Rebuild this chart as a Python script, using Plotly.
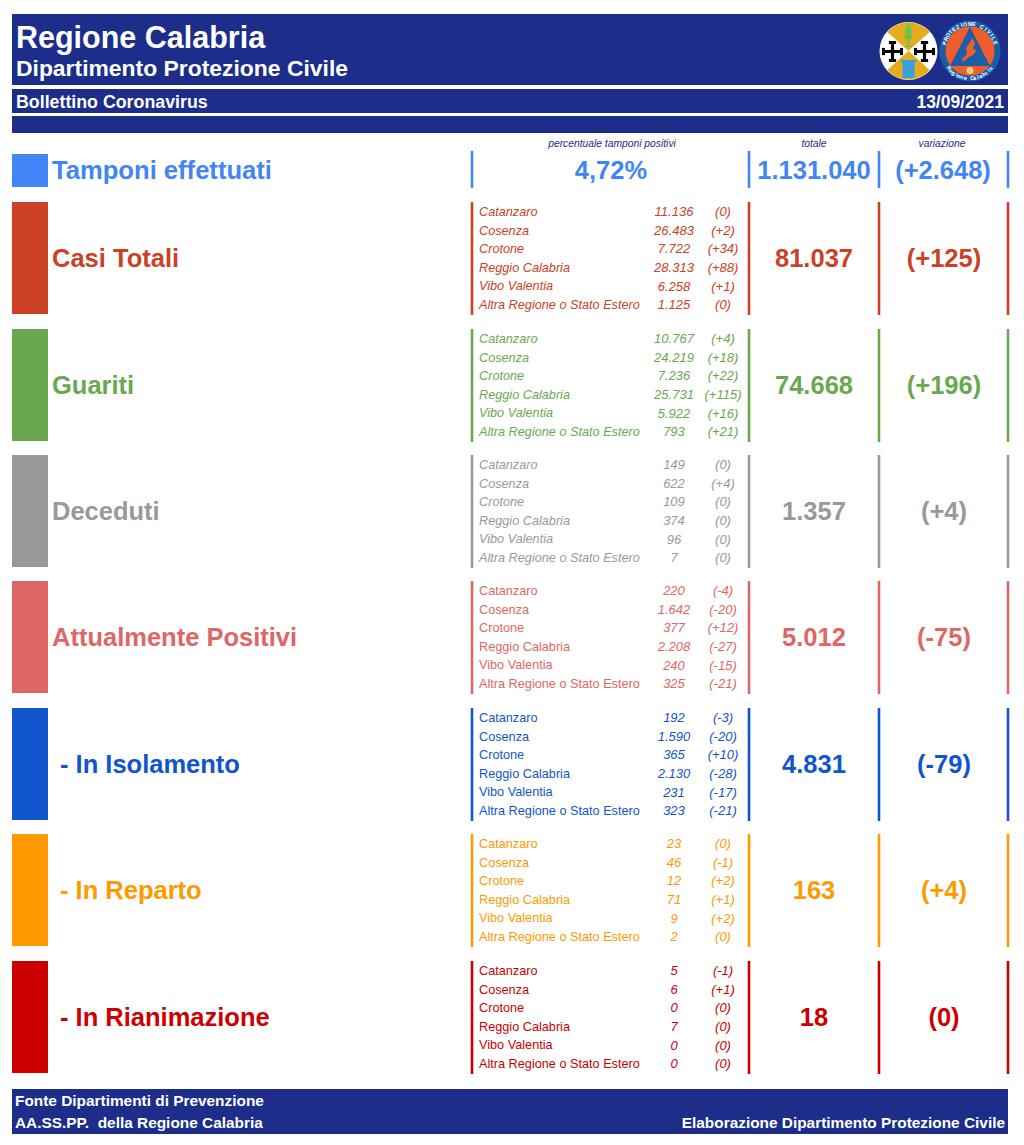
import math
import plotly.graph_objects as go

# ---------- data ----------
provinces = ["Catanzaro", "Cosenza", "Crotone", "Reggio Calabria", "Vibo Valentia", "Altra Regione o Stato Estero"]

casi_values = [11136, 26483, 7722, 28313, 6258, 1125]
casi_delta = [0, 2, 34, 88, 1, 0]
guariti_values = [10767, 24219, 7236, 25731, 5922, 793]
guariti_delta = [4, 18, 22, 115, 16, 21]
deceduti_values = [149, 622, 109, 374, 96, 7]
deceduti_delta = [0, 4, 0, 0, 0, 0]
positivi_values = [220, 1642, 377, 2208, 240, 325]
positivi_delta = [-4, -20, 12, -27, -15, -21]
isolamento_values = [192, 1590, 365, 2130, 231, 323]
isolamento_delta = [-3, -20, 10, -28, -17, -21]
reparto_values = [23, 46, 12, 71, 9, 2]
reparto_delta = [0, -1, 2, 1, 2, 0]
rianimazione_values = [5, 6, 0, 7, 0, 0]
rianimazione_delta = [-1, 1, 0, 0, 0, 0]

category_names = ["Casi Totali", "Guariti", "Deceduti", "Attualmente Positivi",
                  "- In Isolamento", "- In Reparto", "- In Rianimazione"]
category_totals = [81037, 74668, 1357, 5012, 4831, 163, 18]
category_changes = [125, 196, 4, -75, -79, 4, 0]

tamponi_label = "Tamponi effettuati"
tamponi_percent = "4,72%"
tamponi_total = 1131040
tamponi_change = 2648

title_main = "Regione Calabria"
title_sub = "Dipartimento Protezione Civile"
title_band = "Bollettino Coronavirus"
report_date = "13/09/2021"
footer_left = ["Fonte Dipartimenti di Prevenzione", "AA.SS.PP.  della Regione Calabria"]
footer_right = "Elaborazione Dipartimento Protezione Civile"
column_heads = ["percentuale tamponi positivi", "totale", "variazione"]

# ---------- styles / layout ----------
FONT = "Liberation Sans"
NAVY = "#1c2d8a"
TAMPONI = "#4285f4"
colors = ["#cc4125", "#6aa84f", "#999999", "#e06666", "#1155cc", "#ff9900", "#cc0000"]
names_italic = [True, True, True, False, False, False, False]
series = [(casi_values, casi_delta), (guariti_values, guariti_delta), (deceduti_values, deceduti_delta),
          (positivi_values, positivi_delta), (isolamento_values, isolamento_delta),
          (reparto_values, reparto_delta), (rianimazione_values, rianimazione_delta)]
row_tops = [202, 329, 455, 581, 708, 834, 961]
ROW_H = 112
RULES_X = [472, 749, 879, 1008]


def it(n):
    return f"{n:,}".replace(",", ".")


def delta(n):
    return "(0)" if n == 0 else f"({n:+,})".replace(",", ".")


fig = go.Figure()
shapes = []
annotations = []


def text(x, y, s, color, size, pos="middle center", bold=False, italic=False):
    # the renderer sits "middle" text slightly high; nudge in proportion to font size
    fig.add_trace(go.Scatter(
        x=[x], y=[y + size * 0.105], text=[s], mode="text", textposition=pos, hoverinfo="skip", showlegend=False,
        textfont=dict(family=FONT, size=size, color=color,
                      weight="bold" if bold else "normal", style="italic" if italic else "normal"),
    ))


def band(x0, y0, x1, y1, color=NAVY):
    shapes.append(dict(type="rect", x0=x0, y0=y0, x1=x1, y1=y1, fillcolor=color,
                       line=dict(width=0), layer="below"))


def rule(x, y0, y1, color):
    fig.add_trace(go.Scatter(x=[x, x], y=[y0, y1], mode="lines", hoverinfo="skip", showlegend=False,
                             line=dict(color=color, width=2.6)))


def swatch(y0, y1, color):
    fig.add_trace(go.Bar(x=[30], y=[y1 - y0], base=[y0], width=[36], marker=dict(color=color, line=dict(width=0)),
                         hoverinfo="skip", showlegend=False))


# banners
band(12, 14, 1008, 85)
band(12, 89, 1008, 113)
band(12, 116, 1008, 133)
band(12, 1089, 1008, 1134)
text(16, 37, title_main, "white", 30.5, "middle right", bold=True)
text(16, 68, title_sub, "white", 22.9, "middle right", bold=True)
text(16, 101.5, title_band, "white", 17.8, "middle right", bold=True)
text(1004, 101.5, report_date, "white", 17.5, "middle left", bold=True)
text(15, 1100.5, footer_left[0], "white", 15.4, "middle right", bold=True)
text(15, 1123, footer_left[1], "white", 15.4, "middle right", bold=True)
text(1005, 1123, footer_right, "white", 15.4, "middle left", bold=True)

# column headers
text(612, 143.5, column_heads[0], NAVY, 10.3, italic=True)
text(814, 143.5, column_heads[1], NAVY, 10.3, italic=True)
text(942, 143.5, column_heads[2], NAVY, 10.3, italic=True)

# tamponi row
swatch(154, 187, TAMPONI)
for x in RULES_X:
    rule(x, 151, 188, TAMPONI)
text(52, 170, tamponi_label, TAMPONI, 25.6, "middle right", bold=True)
text(611, 170, tamponi_percent, TAMPONI, 25.5, bold=True)
text(814, 170, it(tamponi_total), TAMPONI, 25.5, bold=True)
text(943, 170, f"(+{it(tamponi_change)})", TAMPONI, 25.5, bold=True)

# category rows
for i, top in enumerate(row_tops):
    c = colors[i]
    swatch(top, top + ROW_H, c)
    for x in RULES_X:
        rule(x, top, top + ROW_H + 1, c)
    mid = top + 56
    name_x = 60 if category_names[i].startswith("-") else 52
    text(name_x, mid, category_names[i], c, 25.5, "middle right", bold=True)
    text(814, mid, it(category_totals[i]), c, 25.5, bold=True)
    text(944, mid, delta(category_changes[i]), c, 25.5, bold=True)
    vals, dels = series[i]
    for j, p in enumerate(provinces):
        y = top + 9.5 + 18.6 * j
        text(479, y, p, c, 12.7, "middle right", italic=names_italic[i])
        text(674, y, it(vals[j]), c, 13, italic=True)
        text(723, y, delta(dels[j]), c, 13, italic=True)


# ---------- logos ----------
def poly(points, color, line=None, lw=0):
    d = "M " + " L ".join(f"{a:.2f},{b:.2f}" for a, b in points) + " Z"
    shapes.append(dict(type="path", path=d, fillcolor=color,
                       line=dict(width=lw, color=line or color), layer="above"))


def disc(cx, cy, r, color):
    shapes.append(dict(type="circle", x0=cx - r, x1=cx + r, y0=cy - r, y1=cy + r, fillcolor=color,
                       line=dict(width=0), layer="above"))


def sector(cx, cy, r, a0, a1, color):
    pts = [(cx, cy)]
    for k in range(25):
        a = math.radians(a0 + (a1 - a0) * k / 24)
        pts.append((cx + r * math.cos(a), cy + r * math.sin(a)))
    poly(pts, color)


def cross(cx, cy, s, color="black"):
    t = 1.6
    poly([(cx - t, cy - s), (cx + t, cy - s), (cx + t, cy - t), (cx + s, cy - t), (cx + s, cy + t),
          (cx + t, cy + t), (cx + t, cy + s), (cx - t, cy + s), (cx - t, cy + t), (cx - s, cy + t),
          (cx - s, cy - t), (cx - t, cy - t)], color)
    long, short = 3.6, 1.5
    poly([(cx - long, cy - s), (cx + long, cy - s), (cx + long, cy - s + 2 * short), (cx - long, cy - s + 2 * short)], color)
    poly([(cx - long, cy + s), (cx + long, cy + s), (cx + long, cy + s - 2 * short), (cx - long, cy + s - 2 * short)], color)
    poly([(cx - s, cy - long), (cx - s, cy + long), (cx - s + 2 * short, cy + long), (cx - s + 2 * short, cy - long)], color)
    poly([(cx + s, cy - long), (cx + s, cy + long), (cx + s - 2 * short, cy + long), (cx + s - 2 * short, cy - long)], color)


# regional arms
LX, LY = 908.5, 51
disc(LX, LY, 29, "white")
sector(LX, LY, 28.5, 222, 318, "#e5ad1c")
sector(LX, LY, 28.5, 42, 138, "#e5ad1c")
cross(LX - 16, LY + 0.5, 10.5)
cross(LX + 16, LY + 0.5, 10.5)
poly([(LX, LY - 29), (LX + 4, LY - 20), (LX + 2.5, LY - 20), (LX + 4, LY - 12), (LX + 1, LY - 12), (LX + 1, LY - 6),
      (LX + 4, LY - 4), (LX - 4, LY - 4), (LX - 1, LY - 6), (LX - 1, LY - 12), (LX - 4, LY - 12),
      (LX - 2.5, LY - 20), (LX - 4, LY - 20)], "#6cc24a")
poly([(LX - 8, LY + 9), (LX + 8, LY + 9), (LX + 6, LY + 13), (LX + 6, LY + 27), (LX - 6, LY + 27), (LX - 6, LY + 13)], "#3aa0dc")

# civil protection
RX, RY = 970, 51
disc(RX, RY, 30.5, "#1b5ea6")
disc(RX, RY, 24.5, "#ef5d2a")
poly([(RX, RY - 24), (RX + 20, RY + 15), (RX - 20, RY + 15)], "#1b5ea6")
poly([(RX + 2, RY - 13), (RX + 5, RY - 8), (RX + 3, RY - 3), (RX + 6, RY), (RX + 3, RY + 4), (RX - 1, RY + 6),
      (RX - 7, RY + 11), (RX - 8, RY + 8), (RX - 3, RY + 3), (RX - 4, RY - 3), (RX - 1, RY - 7)], "#ef5d2a")
disc(RX, RY + 19.5, 3.5, "#e8d27a")


def arc_text(s, start, step, r, inverted=False):
    for k, ch in enumerate(s):
        deg = start + step * k
        a = math.radians(deg)
        annotations.append(dict(
            x=RX + r * math.cos(a), y=RY + r * math.sin(a), text=ch, showarrow=False, xref="x", yref="y",
            textangle=(deg + 90) if not inverted else (deg - 90),
            font=dict(family=FONT, size=5.5, color="white", weight="bold")))


arc_text("PROTEZIONE CIVILE", -162, 9, 27)
arc_text("Regione Calabria", 140, -6.7, 27, inverted=True)

fig.update_layout(
    width=1024, height=1145, margin=dict(l=0, r=0, t=0, b=0, pad=0), autosize=False,
    paper_bgcolor="white", plot_bgcolor="white", showlegend=False, barmode="overlay", bargap=0,
    xaxis=dict(range=[0, 1024], visible=False, fixedrange=True),
    yaxis=dict(range=[1145, 0], visible=False, fixedrange=True),
    shapes=shapes, annotations=annotations,
)
fig.write_html("out.html", config=dict(displayModeBar=False),
               post_script="document.body.style.margin='0';document.documentElement.style.overflow='hidden';")
